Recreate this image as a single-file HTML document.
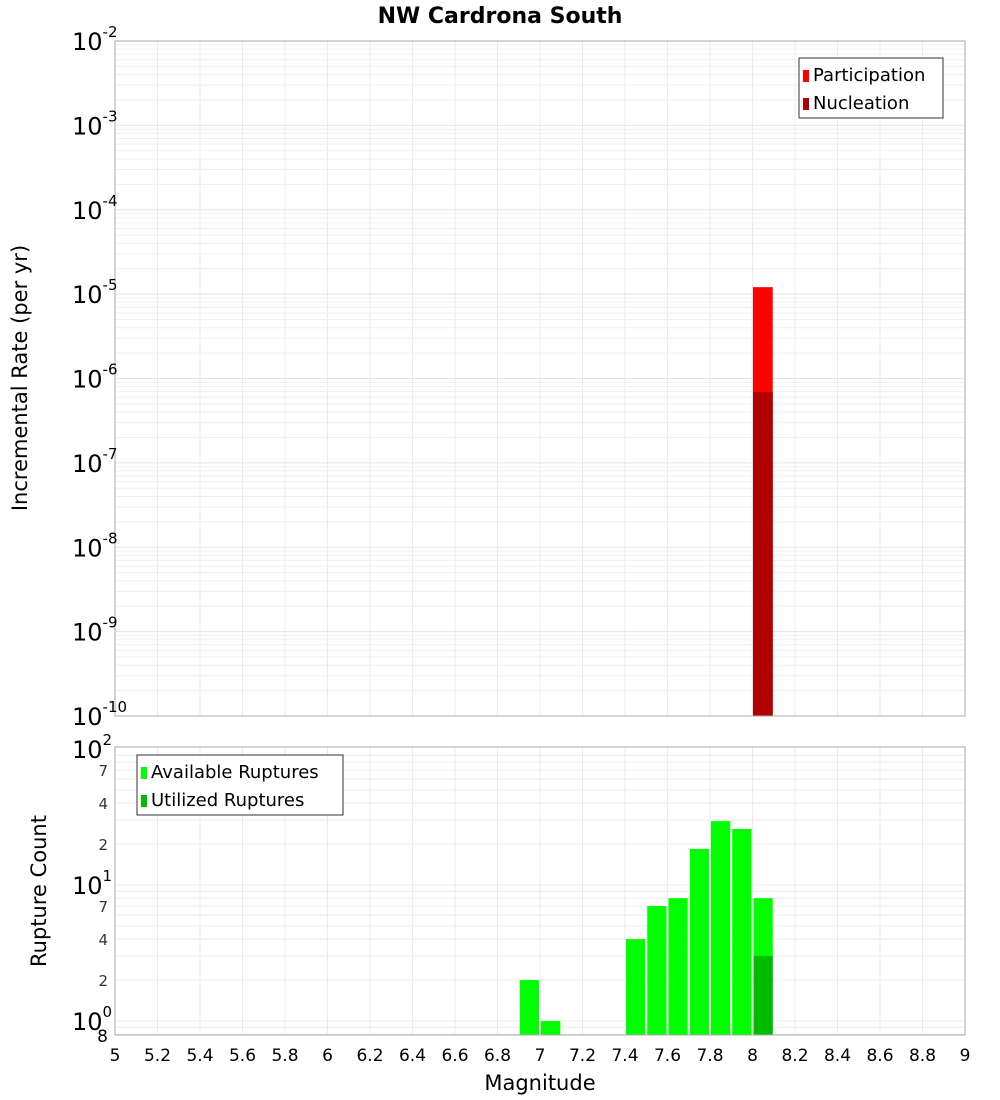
<!DOCTYPE html>
<html><head><meta charset="utf-8">
<style>
body{margin:0;background:#fff;width:1000px;height:1100px;overflow:hidden;font-family:"DejaVu Sans","Liberation Sans",sans-serif;}
svg{display:block}
</style></head>
<body>
<svg id="chart" width="1000" height="1100" xmlns="http://www.w3.org/2000/svg" font-family="DejaVu Sans, Liberation Sans, sans-serif">
<text x="500" y="23" text-anchor="middle" font-size="22" font-weight="bold">NW Cardrona South</text>
<g id="topg"></g><g id="botg"></g>
<text transform="translate(27,378) rotate(-90)" text-anchor="middle" font-size="21">Incremental Rate (per yr)</text>
<text transform="translate(46,891) rotate(-90)" text-anchor="middle" font-size="21">Rupture Count</text>
<text x="540" y="1090" text-anchor="middle" font-size="21">Magnitude</text>
</svg>
<script>
const xTicks=[5,5.2,5.4,5.6,5.8,6,6.2,6.4,6.6,6.8,7,7.2,7.4,7.6,7.8,8,8.2,8.4,8.6,8.8,9];
const rateMags=[8.05];
const participation=[1.21e-5];
const nucleation=[6.9e-7];
const countMags=[6.95,7.05,7.45,7.55,7.65,7.75,7.85,7.95,8.05];
const available=[2,1,4,7,8,18.4,29.5,25.8,8];
const utilizedMags=[8.05];
const utilized=[3];
const topDecades=[-10,-9,-8,-7,-6,-5,-4,-3,-2];
const botMinorLabels=[2,4,7];

const NS="http://www.w3.org/2000/svg";
const X0=115,X1=965;
const xs=m=>X0+(m-5)/4*(X1-X0);
const TY0=41,TY1=716;
const yT=v=>TY1-(Math.log10(v)+10)/8*(TY1-TY0);
const BY0=747,BY1=1035;
const yB=v=>1021-Math.log10(v)*136;
function el(p,t,a,txt){const e=document.createElementNS(NS,t);for(const k in a)e.setAttribute(k,a[k]);if(txt!==undefined)e.textContent=txt;p.appendChild(e);return e;}
const gTop=document.getElementById('topg'),gBot=document.getElementById('botg');

function frame(g,y0,y1,name){
  const r=el(g,'rect',{x:X0,y:y0,width:X1-X0,height:y1-y0,fill:'#fff',stroke:'none'});
  
  
  xTicks.forEach(t=>{const l=el(g,'line',{x1:xs(t),x2:xs(t),y1:y0,y2:y1,stroke:'#ebebeb','stroke-width':1});
    
    });
}
frame(gTop,TY0,TY1,'top-plot-area');
frame(gBot,BY0,BY1,'bottom-plot-area');
for(let d=-10;d<-2;d++){for(let k=1;k<10;k++){const v=k*Math.pow(10,d);const yy=yT(v);
  const l=el(gTop,'line',{x1:X0,x2:X1,y1:yy,y2:yy,stroke:k==1?'#e4e4e4':'#efefef','stroke-width':1});
  
  }}
for(let d=-1;d<2;d++){for(let k=1;k<10;k++){const v=k*Math.pow(10,d);const yy=yB(v);if(yy<BY0||yy>BY1)continue;
  const l=el(gBot,'line',{x1:X0,x2:X1,y1:yy,y2:yy,stroke:'#ececec','stroke-width':1});
  
  }}

const bw=(X1-X0)/40;
rateMags.forEach((m,i)=>{
  const p=el(gTop,'rect',{x:xs(m)-bw/2+0.5,y:yT(participation[i]),width:bw-1.5,height:TY1-yT(participation[i]),fill:'#ff0000'});
  
  
  const n=el(gTop,'rect',{x:xs(m)-bw/2+0.5,y:yT(nucleation[i]),width:bw-1.5,height:TY1-yT(nucleation[i]),fill:'#b00000'});
  
  
});
countMags.forEach((m,i)=>{
  const b=el(gBot,'rect',{x:xs(m)-bw/2+1,y:yB(available[i]),width:bw-2,height:BY1-yB(available[i]),fill:'#00ff00'});
  
  
});
utilizedMags.forEach((m,i)=>{
  const b=el(gBot,'rect',{x:xs(m)-bw/2+1,y:yB(utilized[i]),width:bw-2,height:BY1-yB(utilized[i]),fill:'#00bb00'});
  
  
});
[[TY0,TY1,gTop],[BY0,BY1,gBot]].forEach(([a,b,g])=>{const r=el(g,'rect',{x:X0,y:a,width:X1-X0,height:b-a,fill:'none',stroke:'#aaa','stroke-width':1});
  
  });

topDecades.forEach(d=>{const yy=yT(Math.pow(10,d));
  const t=el(gTop,'text',{x:72,y:yy+9,'font-size':24});
  
  
  el(t,'tspan',{},'10');el(t,'tspan',{dy:-13,'font-size':15},String(d));});
[0,1,2].forEach(d=>{const yy=yB(Math.pow(10,d));
  const t=el(gBot,'text',{x:72,y:yy+9,'font-size':24});
  
  
  el(t,'tspan',{},'10');el(t,'tspan',{dy:-13,'font-size':15},String(d));});
[0.1,1].forEach(dec=>{botMinorLabels.forEach(k=>{const v=k*dec*10;const yy=yB(v);
  const t=el(gBot,'text',{x:108,y:yy+6,'font-size':15,'text-anchor':'end',fill:'#333'},String(k));
  
  });});
{const t=el(gBot,'text',{x:108,y:yB(0.8)+8,'font-size':17,'text-anchor':'end'},'8');
 
 }
xTicks.forEach(t=>{const e=el(gBot,'text',{x:xs(t),y:1061,'font-size':17,'text-anchor':'middle'},String(t));
  
  });

function legend(g,lx,ly,w,items,name){
  const G=el(g,'g',{});
  
  
  el(G,'rect',{x:lx,y:ly,width:w,height:60,fill:'#fff',stroke:'#333','stroke-width':1});
  items.forEach((it,i)=>{el(G,'rect',{x:lx+4,y:ly+12+i*28,width:6,height:12,fill:it[1]});
    el(G,'text',{x:lx+14,y:ly+23+i*28,'font-size':18},it[0]);});
}
legend(gTop,799,58,144,[['Participation','#ff0000'],['Nucleation','#b00000']],'top-legend');
legend(gBot,137,755,206,[['Available Ruptures','#00ff00'],['Utilized Ruptures','#00bb00']],'bottom-legend');
</script>
</body></html>
